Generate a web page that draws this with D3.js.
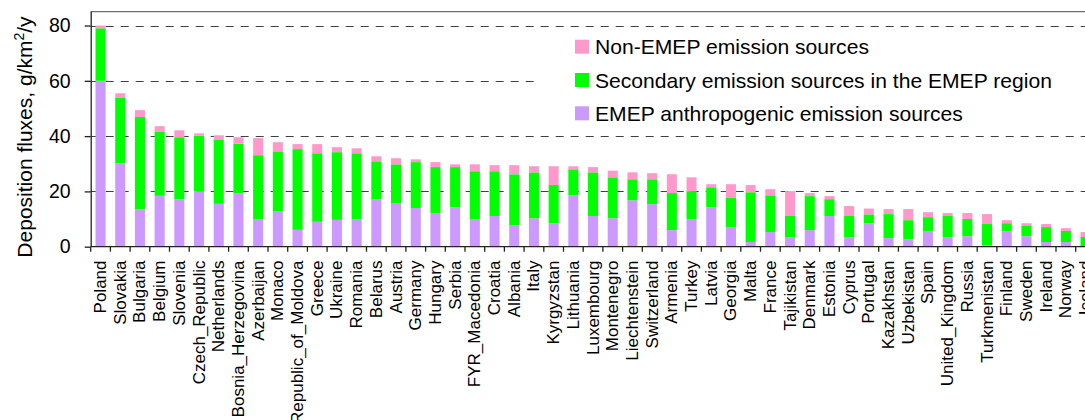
<!DOCTYPE html>
<html>
<head>
<meta charset="utf-8">
<script src="https://cdn.jsdelivr.net/npm/d3@7/dist/d3.min.js"></script>
<style>
  html, body { margin: 0; padding: 0; background: #fff; }
  svg { display: block; font-family: "Liberation Sans", Arial, sans-serif; }
</style>
</head>
<body>
<svg id="chart" width="1085" height="420"></svg>
<script>
// Countries, ordered by total deposition flux
const countries = [
  "Poland", "Slovakia", "Bulgaria", "Belgium", "Slovenia", "Czech_Republic",
  "Netherlands", "Bosnia_Herzegovina", "Azerbaijan", "Monaco", "Republic_of_Moldova",
  "Greece", "Ukraine", "Romania", "Belarus", "Austria", "Germany", "Hungary",
  "Serbia", "FYR_Macedonia", "Croatia", "Albania", "Italy", "Kyrgyzstan",
  "Lithuania", "Luxembourg", "Montenegro", "Liechtenstein", "Switzerland",
  "Armenia", "Turkey", "Latvia", "Georgia", "Malta", "France", "Tajikistan",
  "Denmark", "Estonia", "Cyprus", "Portugal", "Kazakhstan", "Uzbekistan",
  "Spain", "United_Kingdom", "Russia", "Turkmenistan", "Finland", "Sweden",
  "Ireland", "Norway", "Iceland"
];

// EMEP anthropogenic emission sources, g/km2/y
const emepAnthropogenic = [
  60.0, 30.2, 13.6, 18.4, 17.2, 20.1, 15.5, 19.4, 10.0, 12.9, 6.1,
  9.0, 9.7, 10.0, 17.2, 15.8, 14.0, 12.2, 14.3, 10.0, 11.1, 7.8, 10.3, 8.5,
  18.6, 11.1, 10.3, 16.8, 15.4, 6.0, 10.0, 14.3, 7.1, 1.7, 5.3, 3.5,
  6.0, 11.1, 3.5, 8.5, 3.1, 2.8, 5.7, 3.5, 3.8, 0.5, 5.7, 3.8,
  1.7, 1.7, 0.2
];

// Secondary emission sources in the EMEP region, g/km2/y
const secondary = [
  19.0, 23.6, 33.3, 23.3, 22.4, 20.0, 23.1, 17.8, 23.1, 21.6, 29.2,
  24.8, 24.5, 23.8, 13.7, 14.0, 16.6, 16.6, 14.5, 17.3, 16.2, 18.4, 16.6, 13.8,
  9.4, 15.8, 14.8, 7.6, 9.0, 13.4, 10.1, 7.2, 10.5, 18.0, 13.3, 7.6,
  12.3, 6.1, 7.6, 3.2, 8.7, 6.8, 5.0, 7.6, 6.2, 7.7, 2.8, 3.7,
  5.4, 4.0, 3.3
];

// Non-EMEP emission sources, g/km2/y
const nonEmep = [
  1.0, 1.7, 2.5, 1.9, 2.5, 0.9, 1.7, 2.4, 6.2, 3.3, 1.8,
  3.3, 1.8, 1.8, 1.8, 2.2, 1.0, 1.8, 1.0, 2.5, 2.2, 3.3, 2.2, 6.8,
  1.1, 1.9, 2.4, 2.5, 2.2, 6.8, 5.0, 1.1, 5.0, 2.6, 2.2, 9.0,
  1.1, 1.1, 3.6, 2.1, 1.8, 4.0, 1.8, 1.1, 2.2, 3.6, 1.1, 1.0,
  1.1, 1.0, 1.8
];

const seriesKeys = ["emep", "secondary", "nonEmep"];
const seriesLabels = {
  nonEmep: "Non-EMEP emission sources",
  secondary: "Secondary emission sources in the EMEP region",
  emep: "EMEP anthropogenic emission sources"
};
const seriesColors = { emep: "#CC99FF", secondary: "#00FF00", nonEmep: "#FF99CC" };
const legendOrder = ["nonEmep", "secondary", "emep"];
const yTicks = [0, 20, 40, 60, 80];

const rows = countries.map((c, i) => ({
  country: c,
  emep: emepAnthropogenic[i],
  secondary: secondary[i],
  nonEmep: nonEmep[i]
}));

const svg = d3.select("#chart");
const plotLeft = 90.7, plotTop = 11.7, plotBottom = 246.7;
// the category axis runs past the right edge of the canvas
const plotRight = plotLeft + 19.7 * countries.length;

const x = d3.scaleBand()
  .domain(countries)
  .range([plotLeft, plotRight])
  .paddingInner(0.49)
  .paddingOuter(0.245);

const y = d3.scaleLinear().domain([0, 85]).range([plotBottom, plotTop]);

// dashed gridlines
svg.append("g")
  .selectAll("line")
  .data(yTicks.filter(d => d > 0))
  .join("line")
  .attr("x1", plotLeft)
  .attr("x2", plotRight)
  .attr("y1", d => Math.round(y(d)) + 0.5)
  .attr("y2", d => Math.round(y(d)) + 0.5)
  .attr("stroke", "#404040")
  .attr("stroke-width", 1)
  .attr("stroke-dasharray", "8,7");

// frame top edge
svg.append("line")
  .attr("x1", plotLeft).attr("x2", plotRight)
  .attr("y1", y(85)).attr("y2", y(85))
  .attr("stroke", "#707070").attr("stroke-width", 1.3);

// stacked bars
const stack = d3.stack().keys(seriesKeys)(rows);
svg.append("g")
  .selectAll("g")
  .data(stack)
  .join("g")
  .attr("fill", d => seriesColors[d.key])
  .selectAll("rect")
  .data(d => d)
  .join("rect")
  .attr("x", d => x(d.data.country))
  .attr("width", x.bandwidth())
  .attr("y", d => y(d[1]))
  .attr("height", d => y(d[0]) - y(d[1]));

// y axis
const yAxis = svg.append("g")
  .attr("transform", `translate(${plotLeft},0)`)
  .call(d3.axisLeft(y).tickValues(yTicks).tickSize(6).tickPadding(14).tickFormat(d3.format("d")));
yAxis.select(".domain").attr("stroke", "#222").attr("stroke-width", 1.3)
  .attr("d", `M0.5,${plotBottom}V${y(85)}`);
yAxis.selectAll(".tick line").attr("stroke", "#222").attr("stroke-width", 1.3);
yAxis.selectAll(".tick text")
  .attr("font-size", 19.5)
  .attr("fill", "#000")
  .attr("font-family", "'Liberation Sans', Arial, sans-serif");

// x axis with ticks between categories
const xg = svg.append("g");
xg.append("line")
  .attr("x1", plotLeft).attr("x2", plotRight)
  .attr("y1", plotBottom).attr("y2", plotBottom)
  .attr("stroke", "#222").attr("stroke-width", 1.3);
const step = x.step();
xg.selectAll("line.tk")
  .data(d3.range(countries.length + 1))
  .join("line")
  .attr("class", "tk")
  .attr("x1", i => plotLeft + i * step)
  .attr("x2", i => plotLeft + i * step)
  .attr("y1", plotBottom)
  .attr("y2", plotBottom + 5)
  .attr("stroke", "#222").attr("stroke-width", 1.3);
xg.selectAll("text")
  .data(countries)
  .join("text")
  .attr("transform", d => `translate(${x(d) + x.bandwidth() / 2},${plotBottom + 13.8}) rotate(-90)`)
  .attr("text-anchor", "end")
  .attr("dy", "0.32em")
  .attr("font-size", 17)
  .attr("fill", "#000")
  .text(d => d);

// y axis title
const title = svg.append("text")
  .attr("transform", `translate(32,137) rotate(-90)`)
  .attr("text-anchor", "middle")
  .attr("font-size", 21)
  .attr("fill", "#000");
title.append("tspan").text("Deposition fluxes, g/km");
title.append("tspan").attr("font-size", 14).attr("dy", "-0.55em").text("2");
title.append("tspan").attr("dy", "0.37em").text("/y");

// legend
const lg = svg.append("g");
lg.append("rect")
  .attr("x", 540).attr("y", 30).attr("width", 560).attr("height", 98)
  .attr("fill", "#fff");
const items = lg.selectAll("g.item")
  .data(legendOrder)
  .join("g")
  .attr("class", "item")
  .attr("transform", (d, i) => `translate(575,${46.7 + i * 33.3})`);
items.append("rect")
  .attr("x", 0).attr("y", -7).attr("width", 14).attr("height", 14)
  .attr("fill", d => seriesColors[d]);
items.append("text")
  .attr("x", 20).attr("dy", "0.36em")
  .attr("font-size", 21.1)
  .attr("fill", "#000")
  .text(d => seriesLabels[d]);
</script>
</body>
</html>
